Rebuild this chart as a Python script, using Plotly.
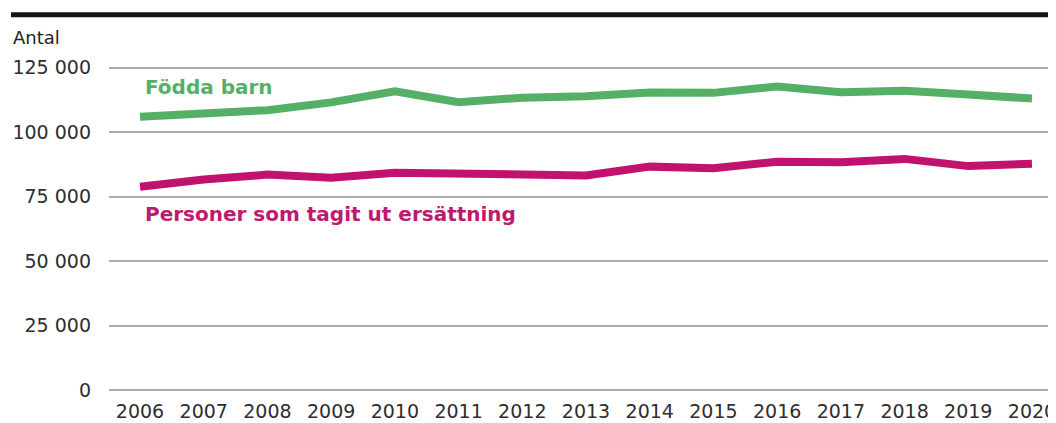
import plotly.graph_objects as go

years = list(range(2006, 2021))
fodda_barn = [105900, 107000, 108500, 111500, 115800, 111600, 113300, 113900,
              115300, 115200, 117700, 115400, 116000, 114600, 113000]
personer_ersattning = [78800, 81600, 83500, 82300, 84200, 84000, 83400, 83200,
                       86600, 86000, 88500, 88300, 89600, 86800, 87700]
y_ticks = [0, 25000, 50000, 75000, 100000, 125000]
y_ticktext = ["0", "25 000", "50 000", "75 000", "100 000", "125 000"]

GREEN = "#55b066"
PINK = "#c1126f"
FONT = "DejaVu Sans"

fig = go.Figure()
fig.add_trace(go.Scatter(x=years, y=fodda_barn, mode="lines", name="Födda barn",
                         line=dict(color=GREEN, width=8)))
fig.add_trace(go.Scatter(x=years, y=personer_ersattning, mode="lines",
                         name="Personer som tagit ut ersättning",
                         line=dict(color=PINK, width=8)))

fig.add_annotation(x=2006, y=117600, xref="x", yref="y", xanchor="left", xshift=3,
                   text="<b>Födda barn</b>", showarrow=False,
                   font=dict(family=FONT, size=20, color=GREEN))
fig.add_annotation(x=2006, y=68300, xref="x", yref="y", xanchor="left", xshift=3,
                   text="<b>Personer som tagit ut ersättning</b>", showarrow=False,
                   font=dict(family=FONT, size=20, color="#bd1a70"))
fig.add_annotation(x=-0.1035, y=1.086, xref="paper", yref="paper",
                   xanchor="left", yanchor="middle",
                   text="Antal", showarrow=False,
                   font=dict(family=FONT, size=18, color="#222222"))

# thick black rule at the top
fig.add_shape(type="line", xref="paper", yref="paper", x0=-0.1035, x1=1.0,
              y0=1.155, y1=1.155, line=dict(color="#151515", width=5))

# page body has an 8px margin, so the figure is 8px smaller than the window
fig.update_layout(
    width=1048, height=415,
    margin=dict(l=101, r=0, t=57, b=33),
    paper_bgcolor="white", plot_bgcolor="white",
    showlegend=False,
    font=dict(family=FONT, size=19, color="#2e2e2e"),
)
fig.update_xaxes(range=[2005.513, 2020.377], tickvals=years, showgrid=False,
                 zeroline=False, showline=False, ticks="", ticklabelstandoff=8,
                 automargin=False, ticklabeloverflow="allow")
fig.update_yaxes(range=[0, 126000], tickvals=y_ticks, ticktext=y_ticktext,
                 showgrid=True, gridcolor="#ababab", gridwidth=1.5,
                 zeroline=True, zerolinecolor="#ababab", zerolinewidth=1.5,
                 showline=False, ticks="", ticklabelstandoff=17,
                 automargin=False, ticklabeloverflow="allow")

fig.write_html("out.html")
